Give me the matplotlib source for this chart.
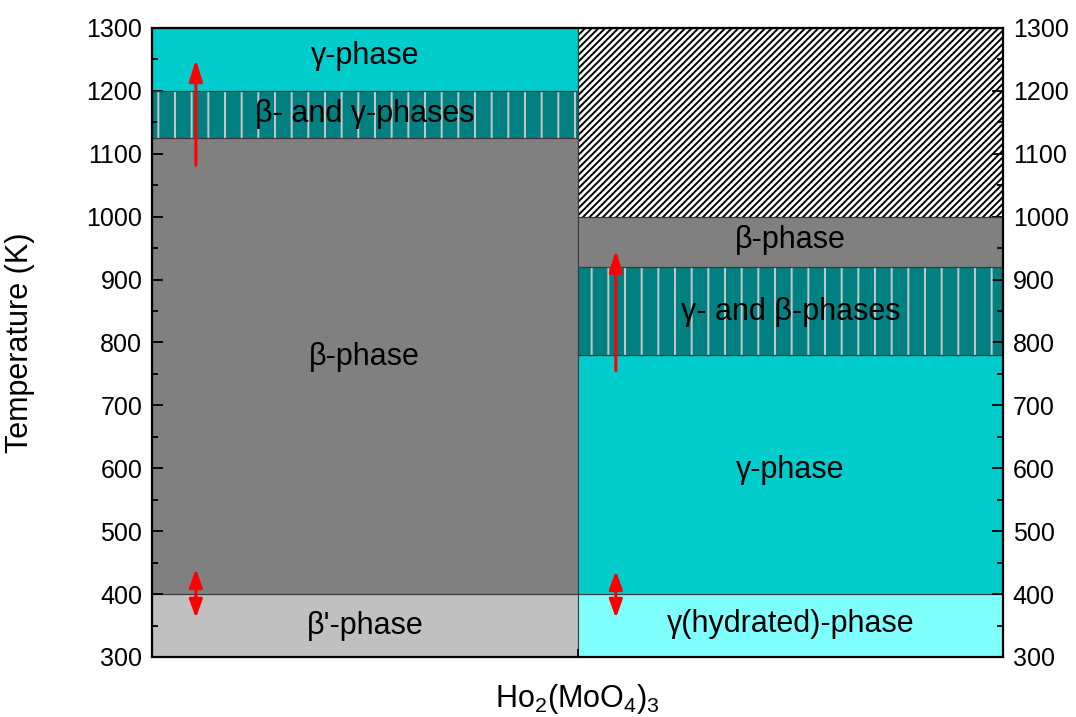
import matplotlib
matplotlib.use("Agg")
import matplotlib.pyplot as plt
from matplotlib.ticker import MultipleLocator

plt.rcParams['font.family'] = ['Liberation Sans', 'DejaVu Sans']
plt.rcParams['mathtext.default'] = 'regular'
plt.rcParams['hatch.linewidth'] = 1.4

# phase regions (K)
left_bottom = [300, 400, 1125, 1200]
left_top = [400, 1125, 1200, 1300]
left_colors = ['#C0C0C0', '#808080', '#008080', '#00CCCC']
left_hatch = [None, None, '|', None]
left_labels = ["β'-phase", "β-phase", "β- and γ-phases", "γ-phase"]
left_label_y = [350, 777, 1163, 1255]

right_bottom = [300, 400, 780, 920, 1000]
right_top = [400, 780, 920, 1000, 1300]
right_colors = ['#80FFFF', '#00CCCC', '#008080', '#808080', 'white']
right_hatch = [None, None, '|', None, '/////']
right_labels = ["γ(hydrated)-phase", "γ-phase", "γ- and β-phases", "β-phase", ""]
right_label_y = [352, 597, 848, 963, 0]

# transition arrows: x, start T, end T, style
arrow_x = [0.103, 0.103, 1.09, 1.09]
arrow_from = [1082, 362, 755, 362]
arrow_to = [1250, 440, 947, 437]
arrow_style = ['-|>', '<|-|>', '-|>', '<|-|>']

fig = plt.figure(figsize=(10.76, 7.17), dpi=100)
ax = fig.add_axes([0.1413, 0.0837, 0.7909, 0.8773])


def draw_column(x0, bottoms, tops, colors, hatches, labels, label_y):
    for b, t, c, h, lab, ly in zip(bottoms, tops, colors, hatches, labels, label_y):
        ax.bar(x0, t - b, bottom=b, width=1.0, align='edge', color=c,
               edgecolor='#3a3a3a', linewidth=0.8, zorder=1)
        if h is not None:
            hc = '#C8C8C8' if h == '|' else 'black'
            ax.bar(x0, t - b, bottom=b, width=1.0, align='edge', color='none',
                   edgecolor=hc, hatch=h, linewidth=0, zorder=2)
            ax.bar(x0, t - b, bottom=b, width=1.0, align='edge', color='none',
                   edgecolor='#3a3a3a', linewidth=0.8, zorder=2)
        if lab:
            ax.text(x0 + 0.5, ly, lab, ha='center', va='center', fontsize=22,
                    color='black', zorder=4)


draw_column(0, left_bottom, left_top, left_colors, left_hatch, left_labels, left_label_y)
draw_column(1, right_bottom, right_top, right_colors, right_hatch, right_labels, right_label_y)

for x, y0, y1, st in zip(arrow_x, arrow_from, arrow_to, arrow_style):
    hl = 0.65 if st == '-|>' else 0.55
    ax.annotate('', xy=(x, y1), xytext=(x, y0),
                arrowprops=dict(arrowstyle=st + ',head_length=%s,head_width=0.2' % hl,
                                color='red', lw=2.2, mutation_scale=20,
                                shrinkA=0, shrinkB=0),
                zorder=5)

ax.set_xlim(0, 2)
ax.set_ylim(300, 1300)
ax.yaxis.set_major_locator(MultipleLocator(100))
ax.yaxis.set_minor_locator(MultipleLocator(50))
ax.set_xticks([1])
ax.set_xticklabels([''])
ax.tick_params(axis='y', which='both', direction='in', left=True, right=True,
               labelleft=True, labelright=True, labelsize=18, width=1.3, pad=7)
ax.tick_params(axis='y', which='major', length=8)
ax.tick_params(axis='y', which='minor', length=4)
ax.tick_params(axis='x', direction='in', length=6, width=1.3, top=False)
for s in ax.spines.values():
    s.set_linewidth(1.6)
    s.set_zorder(6)

ax.set_ylabel('Temperature (K)', fontsize=22)
ax.yaxis.set_label_coords(-0.138, 0.5)
ax.set_xlabel('Ho$_2$(MoO$_4$)$_3$', fontsize=22)
ax.xaxis.set_label_coords(0.5, -0.04)

fig.savefig('out.png', dpi=100)
